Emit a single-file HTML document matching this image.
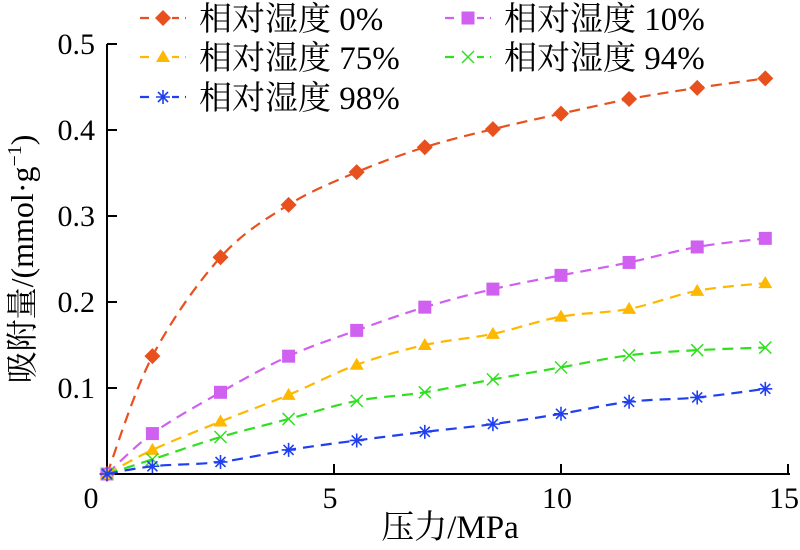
<!DOCTYPE html>
<html><head><meta charset="utf-8"><style>
body{margin:0;background:#fff}
svg text{font-family:"Liberation Serif","Noto Serif CJK SC",serif;fill:#000}
</style></head><body>
<svg id="c" width="800" height="545" viewBox="0 0 800 545"></svg>
<script>
const pressures=[0,1,2.5,4,5.5,7,8.5,10,11.5,13,14.5];
const rh0=[0,0.137,0.252,0.313,0.351,0.380,0.401,0.419,0.436,0.449,0.460];
const rh10=[0,0.047,0.095,0.137,0.167,0.194,0.215,0.231,0.246,0.264,0.274];
const rh75=[0,0.028,0.061,0.092,0.127,0.150,0.163,0.183,0.192,0.213,0.222];
const rh94=[0,0.017,0.043,0.064,0.085,0.095,0.110,0.124,0.138,0.144,0.147];
const rh98=[0,0.009,0.014,0.028,0.039,0.049,0.058,0.070,0.084,0.089,0.099];
const xTicks=[0,5,10,15];
const yTicks=[0.1,0.2,0.3,0.4,0.5];
const seriesNames=["相对湿度 0%","相对湿度 10%","相对湿度 75%","相对湿度 94%","相对湿度 98%"];

const NS="http://www.w3.org/2000/svg";
const svg=document.getElementById('c');
const X=v=>107+v*45.4;
const Y=v=>474-v*860;
function mk(t,a,p){const e=document.createElementNS(NS,t);for(const k in a)e.setAttribute(k,a[k]);(p||svg).appendChild(e);return e;}

let ax=mk('path',{d:`M${X(0)},${Y(0.5)} L${X(0)},${Y(0)} L${X(15)+2},${Y(0)}`,stroke:'#000','stroke-width':2,fill:'none'});


yTicks.forEach(v=>{
  let l=mk('line',{x1:X(0),x2:X(0)+10,y1:Y(v),y2:Y(v),stroke:'#000','stroke-width':2});
  
  
  let t=mk('text',{x:X(0)-12,y:Y(v)+10,'text-anchor':'end','font-size':30});
  t.textContent=v.toFixed(1);
  
  
});
xTicks.forEach(v=>{
  if(v>0){let l=mk('line',{x1:X(v),x2:X(v),y1:Y(0),y2:Y(0)-10,stroke:'#000','stroke-width':2});
  
  }
  let t=mk('text',{x:v===0?X(v)-16:X(v)-4,y:508,'text-anchor':'middle','font-size':30});
  t.textContent=v;
  
  
});
let xt=mk('text',{x:450,y:538,'text-anchor':'middle','font-size':33});
xt.textContent='压力/MPa';


let yt=mk('text',{x:0,y:0,'text-anchor':'middle','font-size':32,transform:'translate(33,259) rotate(-90)'});
yt.innerHTML='吸附量/(mmol·g<tspan dy="-12" font-size="20">−1</tspan><tspan dy="12">)</tspan>';



const colors=['#e8501e','#d060f0','#ffb800','#30e020','#2040f0'];
const shapes=['diamond','square','triangle','x','star'];
const data=[rh0,rh10,rh75,rh94,rh98];

function marker(g,type,x,y,c){
  if(type==='diamond')mk('path',{d:`M${x},${y-8} L${x+8},${y} L${x},${y+8} L${x-8},${y}Z`,fill:c},g);
  else if(type==='square')mk('rect',{x:x-6.5,y:y-6.5,width:13,height:13,fill:c},g);
  else if(type==='triangle')mk('path',{d:`M${x},${y-7} L${x+7},${y+5} L${x-7},${y+5}Z`,fill:c},g);
  else if(type==='x')mk('path',{d:`M${x-6},${y-6}L${x+6},${y+6}M${x-6},${y+6}L${x+6},${y-6}`,stroke:c,'stroke-width':1.5},g);
  else mk('path',{d:`M${x-7},${y}L${x+7},${y}M${x},${y-7}L${x},${y+7}M${x-5},${y-5}L${x+5},${y+5}M${x-5},${y+5}L${x+5},${y-5}`,stroke:c,'stroke-width':1.6},g);
}
function smooth(pts){
  let d=`M${pts[0][0]},${pts[0][1]}`;
  for(let i=0;i<pts.length-1;i++){
    const p0=pts[Math.max(i-1,0)],p1=pts[i],p2=pts[i+1],p3=pts[Math.min(i+2,pts.length-1)];
    const c1=[p1[0]+(p2[0]-p0[0])/6,p1[1]+(p2[1]-p0[1])/6];
    const c2=[p2[0]-(p3[0]-p1[0])/6,p2[1]-(p3[1]-p1[1])/6];
    d+=` C${c1[0]},${c1[1]} ${c2[0]},${c2[1]} ${p2[0]},${p2[1]}`;
  }
  return d;
}
data.forEach((s,si)=>{
  const g=mk('g',{});
  
  
  const pts=pressures.map((p,i)=>[X(p),Y(s[i])]);
  mk('path',{d:smooth(pts),stroke:colors[si],'stroke-width':2.2,fill:'none','stroke-dasharray':'11 7'},g);
  pts.forEach(p=>marker(g,shapes[si],p[0],p[1],colors[si]));
});
const legPos=[[140,18],[445,18],[140,57],[445,57],[140,97]];
seriesNames.forEach((n,i)=>{
  const g=mk('g',{});
  
  
  const [lx,ly]=legPos[i];
  mk('line',{x1:lx,x2:lx+46,y1:ly,y2:ly,stroke:colors[i],'stroke-width':2.2,'stroke-dasharray':'9 6'},g);
  mk('rect',{x:lx+14,y:ly-9,width:18,height:18,fill:'#fff'},g);
  marker(g,shapes[i],lx+23,ly,colors[i]);
  const t=mk('text',{x:lx+59,y:ly+12,'font-size':33},g);
  t.textContent=n;
});
</script>
</body></html>
